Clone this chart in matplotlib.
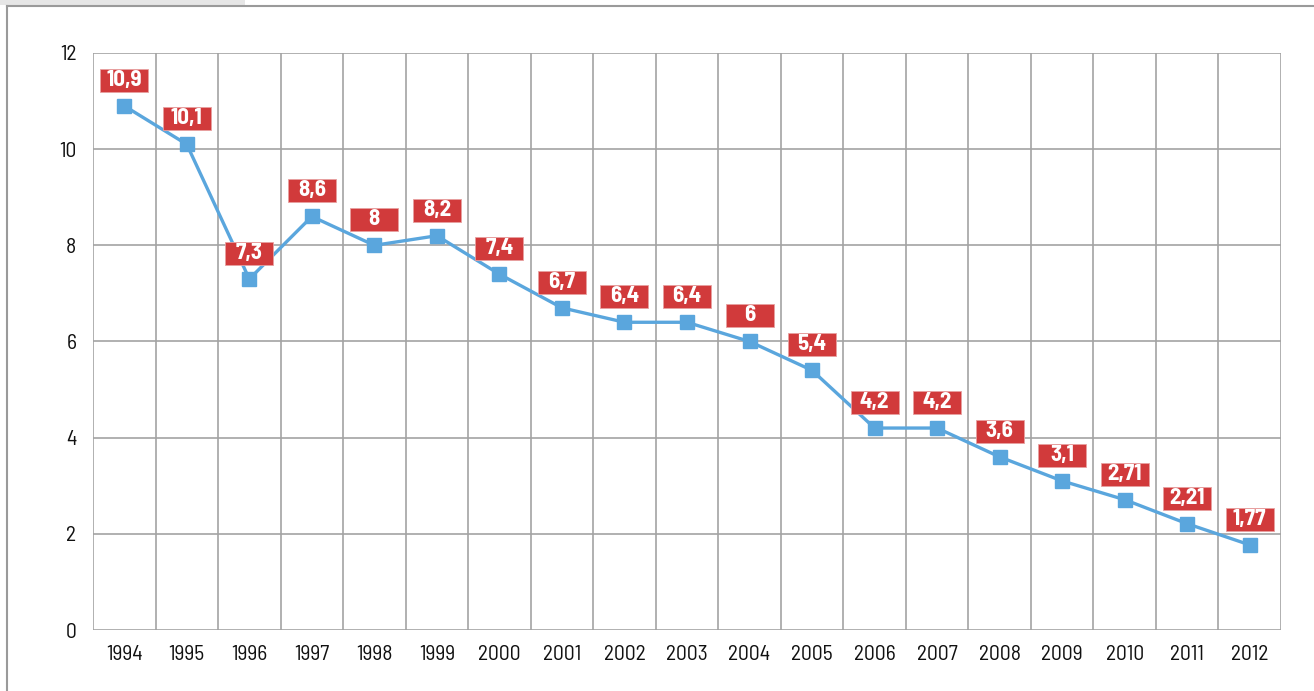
import matplotlib
matplotlib.use("Agg")
import matplotlib.pyplot as plt
import matplotlib.transforms as mtransforms
from matplotlib.patches import Rectangle
from matplotlib.lines import Line2D

years = ["1994", "1995", "1996", "1997", "1998", "1999", "2000", "2001", "2002", "2003",
         "2004", "2005", "2006", "2007", "2008", "2009", "2010", "2011", "2012"]
values = [10.9, 10.1, 7.3, 8.6, 8.0, 8.2, 7.4, 6.7, 6.4, 6.4,
          6.0, 5.4, 4.2, 4.2, 3.6, 3.1, 2.71, 2.21, 1.77]
labels = ["10,9", "10,1", "7,3", "8,6", "8", "8,2", "7,4", "6,7", "6,4", "6,4",
          "6", "5,4", "4,2", "4,2", "3,6", "3,1", "2,71", "2,21", "1,77"]
yticks = [0, 2, 4, 6, 8, 10, 12]

FONT = ["Barlow Semi Condensed", "DejaVu Sans"]
plt.rcParams["font.family"] = FONT

W, H = 1314, 691
fig = plt.figure(figsize=(W / 100, H / 100), dpi=100)
fig.patch.set_facecolor("white")

# frame decorations
fig.patches.append(Rectangle((0, (H - 5) / H), 245 / W, 5 / H, transform=fig.transFigure,
                             facecolor="#e6e6e6", edgecolor="none"))
fig.lines.append(Line2D([7 / W, 1], [(H - 6) / H, (H - 6) / H], transform=fig.transFigure,
                        color="#9a9a9a", lw=1.5))
fig.lines.append(Line2D([7 / W, 7 / W], [0, (H - 6) / H], transform=fig.transFigure,
                        color="#9a9a9a", lw=1.5))

left, right, top, bottom = 93, 1281, 53, 630
ax = fig.add_axes([left / W, (H - bottom) / H, (right - left) / W, (bottom - top) / H])

n = len(years)
x = list(range(n))
ax.set_xlim(-0.5, n - 0.5)
ax.set_ylim(0, 12)

grid_c = "#a3a3a3"
for b in range(n + 1):
    ax.axvline(b - 0.5, color=grid_c, lw=1.2, zorder=1)
for t in yticks:
    ax.axhline(t, color=grid_c, lw=1.2, zorder=1)
for s in ax.spines.values():
    s.set_visible(False)

ax.set_xticks(x)
ax.set_xticklabels(years)
ax.set_yticks(yticks)
ax.set_yticklabels([str(t) for t in yticks])
ax.tick_params(length=0, labelsize=15.5, colors="#111111")
ax.tick_params(axis="x", pad=11)
ax.tick_params(axis="y", pad=12)

ax.plot(x, values, color="#5aa6dd", lw=2.4, marker="s", markersize=9.5,
        markeredgecolor="#5aa6dd", zorder=3, clip_on=False)

bw, bh, gap = 48, 23, 14
for xi, v, lab in zip(x, values, labels):
    off = mtransforms.ScaledTranslation(xi, v, ax.transData)
    tr = mtransforms.IdentityTransform() + off
    ax.add_patch(Rectangle((-bw / 2, gap), bw, bh, transform=tr, facecolor="#d13a3b",
                           edgecolor="#e8a0a0", lw=0.6, zorder=4, clip_on=False))
    ax.text(0, gap + bh / 2 + 0.5, lab, transform=tr, ha="center", va="center",
            color="white", fontsize=16.5, fontweight="bold", zorder=5)

fig.savefig("out.png", dpi=100)
